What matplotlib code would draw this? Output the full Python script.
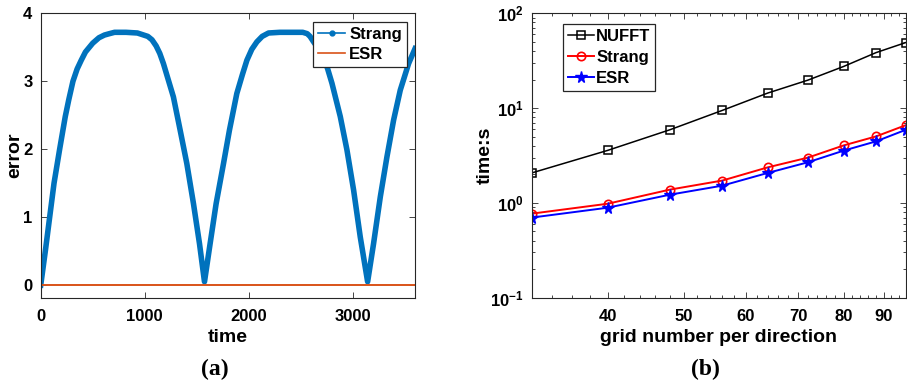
import numpy as np
import matplotlib
matplotlib.use("Agg")
import matplotlib.pyplot as plt
from matplotlib.lines import Line2D
from matplotlib.ticker import FixedLocator, FuncFormatter, LogLocator, NullFormatter

plt.rcParams["font.family"] = ["Liberation Sans", "DejaVu Sans"]
plt.rcParams["font.weight"] = "bold"
plt.rcParams["mathtext.fontset"] = "custom"
plt.rcParams["mathtext.bf"] = "Liberation Sans:bold"
plt.rcParams["mathtext.rm"] = "Liberation Sans:bold"

# panel (a): error vs time
time = [0, 45, 86, 128, 182, 236, 270, 310, 350, 390, 430, 500, 560, 613, 660,
        710, 820, 930, 1030, 1070, 1110, 1145, 1180, 1276, 1341, 1405, 1469,
        1527, 1575, 1629, 1687, 1758, 1815, 1886, 1940, 1983, 2030, 2079, 2130,
        2191, 2300, 2420, 2520, 2563, 2590, 2624, 2670, 2720, 2760, 2801, 2881,
        2945, 3009, 3073, 3144, 3201, 3266, 3330, 3394, 3458, 3538, 3600]
strang_err = [0.0, 0.51, 1.0, 1.5, 2.0, 2.48, 2.73, 3.0, 3.18, 3.31, 3.43, 3.56,
              3.64, 3.68, 3.70, 3.72, 3.72, 3.71, 3.66, 3.61, 3.52, 3.41, 3.26,
              2.77, 2.28, 1.79, 1.20, 0.61, 0.05, 0.61, 1.20, 1.79, 2.28, 2.82,
              3.10, 3.31, 3.47, 3.58, 3.66, 3.71, 3.72, 3.72, 3.72, 3.70, 3.66,
              3.58, 3.48, 3.36, 3.18, 2.97, 2.48, 1.99, 1.40, 0.71, 0.05, 0.61,
              1.30, 1.89, 2.43, 2.87, 3.26, 3.48]
esr_err = [0.0] * len(time)

# panel (b): cpu time vs grid number
grid_n = [32, 40, 48, 56, 64, 72, 80, 88, 96]
t_nufft = [2.07, 3.58, 5.9, 9.45, 14.4, 19.7, 27.5, 38.5, 49.1]
t_strang = [0.77, 0.98, 1.38, 1.72, 2.37, 3.0, 4.04, 5.03, 6.6]
t_esr = [0.70, 0.89, 1.22, 1.52, 2.07, 2.68, 3.56, 4.46, 5.9]

fig = plt.figure(figsize=(9.07, 3.84), dpi=100)
ax1 = fig.add_axes([0.0449, 0.2247, 0.4127, 0.7407])
ax2 = fig.add_axes([0.5862, 0.2247, 0.4124, 0.7407])

blue = "#0072BD"
orange = "#D95319"

ax1.plot(time, strang_err, color=blue, lw=4.0, solid_joinstyle="round")
ax1.plot(time, esr_err, color=orange, lw=1.4)
ax1.set_xlim(0, 3600)
ax1.set_ylim(-0.185, 4)
ax1.set_xticks([0, 1000, 2000, 3000])
ax1.set_yticks([0, 1, 2, 3, 4])
ax1.set_xlabel("time", fontsize=14, fontweight="bold", labelpad=4)
ax1.set_ylabel("error", fontsize=14, fontweight="bold", labelpad=0)
handles = [Line2D([], [], color=blue, lw=1.2, marker=".", markersize=7),
           Line2D([], [], color=orange, lw=1.2)]
leg1 = ax1.legend(handles, ["Strang", "ESR"], loc="upper right", fontsize=12,
                  fancybox=False, edgecolor="#262626", framealpha=1,
                  borderpad=0.3, labelspacing=0.3, handlelength=1.6,
                  handletextpad=0.25, borderaxespad=0.0,
                  bbox_to_anchor=(0.978, 0.969))
leg1.get_frame().set_linewidth(0.9)

ax2.loglog(grid_n, t_nufft, color="black", lw=1.1, marker="s", markersize=5.5,
           markerfacecolor="none", markeredgewidth=1.1, label="NUFFT")
ax2.loglog(grid_n, t_strang, color="red", lw=1.4, marker="o", markersize=6,
           markerfacecolor="none", markeredgewidth=1.2, label="Strang")
ax2.loglog(grid_n, t_esr, color="blue", lw=1.4, marker="*", markersize=8.5,
           label="ESR")
ax2.set_xlim(32, 96)
ax2.set_ylim(0.1, 100)
ax2.xaxis.set_major_locator(FixedLocator([40, 50, 60, 70, 80, 90]))
ax2.xaxis.set_minor_locator(FixedLocator([34, 36, 38, 42, 44, 46, 48, 52, 54, 56, 58,
                                          62, 64, 66, 68, 72, 74, 76, 78, 82, 84,
                                          86, 88, 92, 94]))
ax2.xaxis.set_major_formatter(FuncFormatter(lambda v, p: "%d" % v))
ax2.xaxis.set_minor_formatter(NullFormatter())
ax2.yaxis.set_major_locator(FixedLocator([0.1, 1, 10, 100]))
ax2.yaxis.set_minor_locator(LogLocator(base=10, subs=np.arange(2, 10)))
ax2.yaxis.set_major_formatter(FuncFormatter(
    lambda v, p: r"$\mathbf{10^{%d}}$" % int(round(np.log10(v)))))
ax2.yaxis.set_minor_formatter(NullFormatter())
ax2.set_xlabel("grid number per direction", fontsize=14, fontweight="bold",
               labelpad=4)
ax2.set_ylabel("time:s", fontsize=14, fontweight="bold", labelpad=-3)
leg2 = ax2.legend(loc="upper left", fontsize=12, fancybox=False,
                  edgecolor="#262626", framealpha=1, borderpad=0.3,
                  labelspacing=0.35, handlelength=1.6, handletextpad=0.1,
                  borderaxespad=0.0, bbox_to_anchor=(0.083, 0.962))
leg2.get_frame().set_linewidth(0.9)

for ax in (ax1, ax2):
    for s in ax.spines.values():
        s.set_linewidth(0.8)
        s.set_color("#262626")
    ax.tick_params(which="both", direction="in", top=True, right=True,
                   labelsize=12, width=0.6, colors="#262626", labelcolor="black")
    ax.tick_params(which="major", length=4)
    ax.tick_params(which="minor", length=2.5)
    ax.tick_params(axis="x", which="both", pad=8)
    ax.tick_params(axis="y", which="both", pad=6)
    for lbl in ax.get_xticklabels() + ax.get_yticklabels():
        lbl.set_fontweight("bold")

fig.text(0.2365, 0.024, "(a)", fontsize=17, fontweight="bold",
         family="Liberation Serif", ha="center", va="baseline")
fig.text(0.7773, 0.024, "(b)", fontsize=17, fontweight="bold",
         family="Liberation Serif", ha="center", va="baseline")

fig.savefig("out.png", dpi=100)
